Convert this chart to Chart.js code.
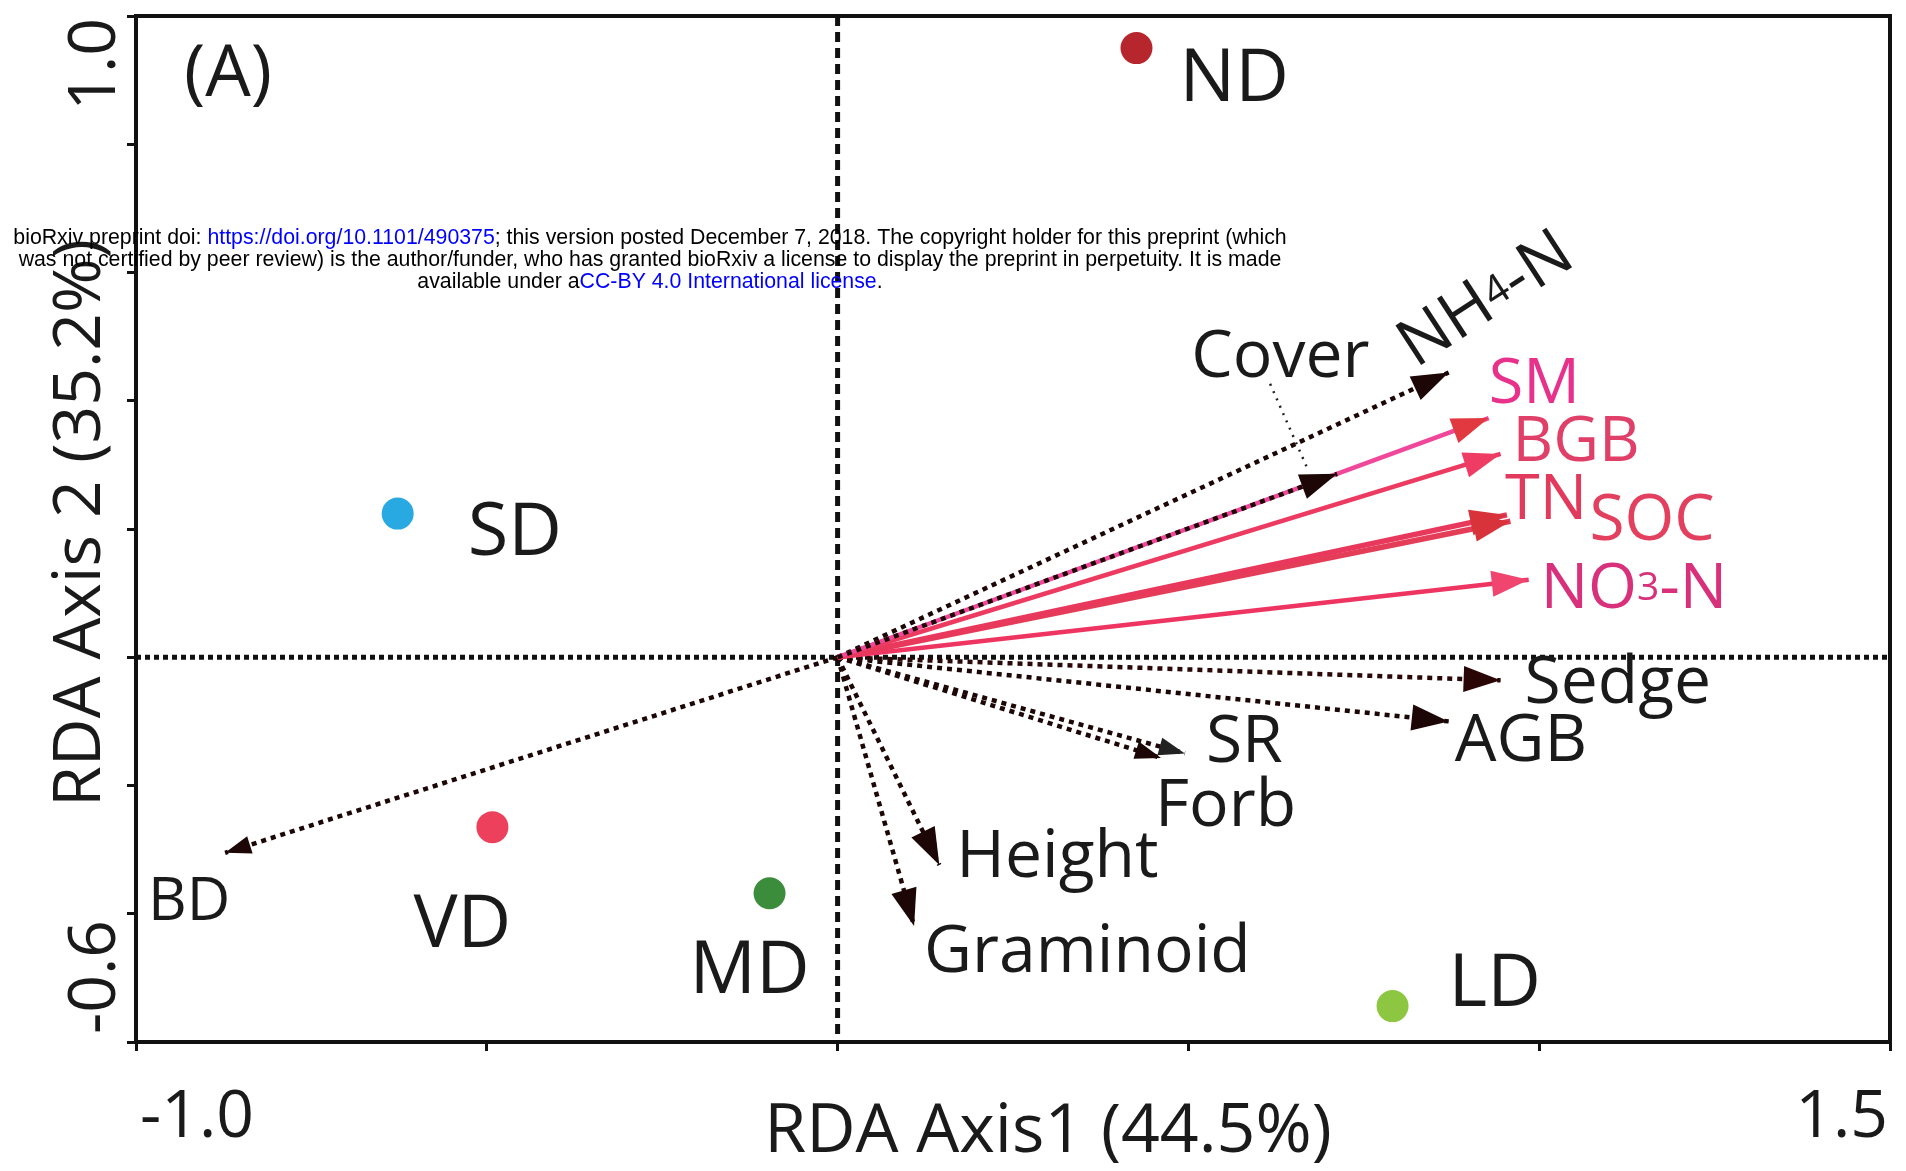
<!DOCTYPE html>
<html>
<head>
    <title>RDA biplot</title>
    <script src="https://cdn.jsdelivr.net/npm/chart.js"></script>
    <style>
        body { margin: 0; background: #fff; }
        #wrap { width: 1906px; height: 1171px; position: relative; }
    </style>
</head>
<body>
<div id="wrap"><canvas id="rdaChart"></canvas></div>
<script>
    // site scores
    const siteNames = ['ND', 'SD', 'VD', 'MD', 'LD'];
    const siteAxis1 = [0.426, -0.627, -0.492, -0.097, 0.791];
    const siteAxis2 = [0.950, 0.224, -0.265, -0.368, -0.544];

    // explanatory variables (arrow tips)
    const varNames = ['NH4-N', 'Sedge', 'AGB', 'SR', 'Forb', 'Height', 'Graminoid', 'BD',
                      'SM', 'BGB', 'TN', 'SOC', 'NO3-N', 'Cover'];
    const varAxis1 = [0.871, 0.945, 0.871, 0.495, 0.461, 0.145, 0.109, -0.873,
                      0.928, 0.945, 0.954, 0.959, 0.985, 0.712];
    const varAxis2 = [0.444, -0.036, -0.100, -0.150, -0.157, -0.324, -0.419, -0.305,
                      0.373, 0.317, 0.222, 0.212, 0.121, 0.286];

    // only the end ticks get a label
    const xEndTicks = [-1.0, 1.5];
    const yEndTicks = [1.0, -0.6];

    const xTitle = 'RDA Axis1 (44.5%)';
    const yTitle = 'RDA Axis 2 (35.2%)';
    const panelLabel = '(A)';

    // ---- styles ----
    const FONT = '"Open Sans", "Noto Sans", sans-serif';
    const siteColors = { ND: '#b8262d', SD: '#29a9e1', VD: '#ec405d', MD: '#3b8d3c', LD: '#8dc641' };
    const siteLabelOffset = { ND: [43, 53], SD: [70, 41], VD: [-79, 120], MD: [-80, 100], LD: [56, 0] };

    const dotted = { line: '#1c0606', head: '#1c0606', text: '#1a1a1a', width: 4.5, dash: [5, 5], order: 3, size: 66 };
    const varStyle = {
        'NH4-N': { ...dotted, rot: -33 },
        'Sedge': { ...dotted, line: '#2a0808', head: '#2a0505' },
        'AGB': dotted, 'SR': { ...dotted, head: '#222', small: true }, 'Forb': { ...dotted, small: true },
        'Height': dotted, 'Graminoid': dotted, 'BD': { ...dotted, size: 60, small: true },
        'Cover': { ...dotted, order: 1 },
        'SM': { line: '#f0479b', head: '#e2383f', text: '#e8318a', width: 4.5, dash: [], order: 2, size: 63 },
        'BGB': { line: '#ec3a60', head: '#ee3c64', text: '#e03f68', width: 4.5, dash: [], order: 2, size: 63 },
        'TN': { line: '#e8385c', head: '#d8333a', text: '#e23a5c', width: 5.5, dash: [], order: 2, size: 63 },
        'SOC': { line: '#e43d58', head: '#d8333a', text: '#e2405e', width: 5.5, dash: [], order: 2, size: 64 },
        'NO3-N': { line: '#ee3562', head: '#f0456e', text: '#d8307a', width: 4.5, dash: [], order: 2, size: 63 }
    };
    const varLabelOffset = {
        'NH4-N': [-33, -4], 'Cover': [-146, -97], 'SM': [0, -15], 'BGB': [12, 7], 'TN': [-2, 4],
        'SOC': [79, 19], 'NO3-N': [12, 28], 'Sedge': [24, 23], 'AGB': [6, 40], 'SR': [21, 9],
        'Forb': [-6, 68], 'Height': [17, 12], 'Graminoid': [10, 46], 'BD': [-77, 67]
    };

    // text with small digits (NH4, NO3)
    function richParts(name) {
        const m = name.match(/^(N[HO])(\d)(-N)$/);
        if (!m) return [[name, 1]];
        return [[m[1], 1], [m[2], 0.62], [m[3], 1]];
    }

    function drawRich(ctx, name, x, y, size, color, rot) {
        ctx.save();
        ctx.translate(x, y);
        if (rot) ctx.rotate(rot * Math.PI / 180);
        ctx.fillStyle = color;
        ctx.textAlign = 'left';
        ctx.textBaseline = 'alphabetic';
        let cx = 0;
        richParts(name).forEach(([t, s]) => {
            ctx.font = `${Math.round(size * s)}px ${FONT}`;
            const dy = s < 1 ? -size * 0.12 : 0;
            ctx.fillText(t, cx, dy);
            cx += ctx.measureText(t).width;
        });
        ctx.restore();
    }

    function drawHead(ctx, from, to, color, len, half) {
        const ang = Math.atan2(to.y - from.y, to.x - from.x);
        ctx.save();
        ctx.translate(to.x, to.y);
        ctx.rotate(ang);
        ctx.fillStyle = color;
        ctx.beginPath();
        ctx.moveTo(0, 0);
        ctx.lineTo(-len, -half);
        ctx.lineTo(-len, half);
        ctx.closePath();
        ctx.fill();
        ctx.restore();
    }

    const biplotDecor = {
        id: 'biplotDecor',
        beforeDatasetsDraw(chart) {
            const { ctx, chartArea: a, scales: { x, y } } = chart;
            const x0 = x.getPixelForValue(0), y0 = y.getPixelForValue(0);
            ctx.save();
            ctx.strokeStyle = '#111';
            ctx.lineWidth = 5;
            ctx.setLineDash([10, 6]);
            ctx.beginPath(); ctx.moveTo(x0, a.top); ctx.lineTo(x0, a.bottom); ctx.stroke();
            ctx.setLineDash([5, 4]);
            ctx.beginPath(); ctx.moveTo(a.left, y0); ctx.lineTo(a.right, y0); ctx.stroke();
            ctx.restore();
        },
        afterDatasetsDraw(chart) {
            const { ctx, chartArea: a, scales: { x, y } } = chart;

            // arrow heads + variable labels
            chart.data.datasets.forEach((ds, i) => {
                if (!ds.varName) return;
                const st = varStyle[ds.varName];
                const pts = chart.getDatasetMeta(i).data;
                const tip = pts[1];
                const len = st.small ? 26 : 37, half = st.small ? 9 : 13;
                drawHead(ctx, pts[0], tip, st.head, len, half);
                const off = varLabelOffset[ds.varName];
                drawRich(ctx, ds.varName, tip.x + off[0], tip.y + off[1], st.size, st.text, st.rot);
                if (ds.varName === 'Cover') {
                    // leader from label to arrow
                    ctx.save();
                    ctx.strokeStyle = '#222';
                    ctx.lineWidth = 2.5;
                    ctx.setLineDash([2, 6]);
                    ctx.beginPath();
                    ctx.moveTo(tip.x - 67, tip.y - 90);
                    ctx.lineTo(tip.x - 30, tip.y - 6);
                    ctx.stroke();
                    ctx.restore();
                }
            });

            // site labels
            const meta = chart.getDatasetMeta(0);
            ctx.save();
            ctx.fillStyle = '#1a1a1a';
            ctx.font = `74px ${FONT}`;
            ctx.textBaseline = 'alphabetic';
            siteNames.forEach((n, i) => {
                const p = meta.data[i];
                const off = siteLabelOffset[n];
                ctx.fillText(n, p.x + off[0], p.y + off[1]);
            });

            // panel letter
            ctx.font = `72px ${FONT}`;
            ctx.fillText(panelLabel, a.left + 48, a.top + 80);

            // frame
            ctx.strokeStyle = '#111';
            ctx.lineWidth = 4;
            ctx.strokeRect(a.left, a.top, a.right - a.left, a.bottom - a.top);

            // tick labels at the axis ends
            ctx.font = `66px ${FONT}`;
            ctx.fillStyle = '#1a1a1a';
            ctx.textAlign = 'left';
            ctx.fillText(xEndTicks[0].toFixed(1), x.getPixelForValue(xEndTicks[0]) + 4, 1137);
            ctx.textAlign = 'right';
            ctx.fillText(xEndTicks[1].toFixed(1), x.getPixelForValue(xEndTicks[1]) - 2, 1137);
            ctx.textAlign = 'center';
            ctx.font = `68px ${FONT}`;
            ctx.fillText(xTitle, (a.left + a.right) / 2 + 35, 1152);
            ctx.font = `66px ${FONT}`;

            ctx.save();
            ctx.translate(115, y.getPixelForValue(yEndTicks[0]) + 2);
            ctx.rotate(-Math.PI / 2);
            ctx.textAlign = 'right';
            ctx.fillText(yEndTicks[0].toFixed(1), 0, 0);
            ctx.restore();
            ctx.save();
            ctx.translate(115, y.getPixelForValue(yEndTicks[1]) - 8);
            ctx.rotate(-Math.PI / 2);
            ctx.textAlign = 'left';
            ctx.fillText(yEndTicks[1].toFixed(1), 0, 0);
            ctx.restore();
            ctx.save();
            ctx.translate(100, (a.top + a.bottom) / 2 - 6);
            ctx.rotate(-Math.PI / 2);
            ctx.textAlign = 'center';
            ctx.fillText(yTitle, 0, 0);
            ctx.restore();
            ctx.restore();
        },
        afterDraw(chart) {
            // preprint stamp over the figure
            const { ctx } = chart;
            const lines = [
                [['bioRxiv preprint doi: ', '#000'], ['https://doi.org/10.1101/490375', '#0000ff'],
                 ['; this version posted December 7, 2018. The copyright holder for this preprint (which', '#000']],
                [['was not certified by peer review) is the author/funder, who has granted bioRxiv a license to display the preprint in perpetuity. It is made', '#000']],
                [['available under a', '#000'], ['CC-BY 4.0 International license', '#0000ff'], ['.', '#000']]
            ];
            ctx.save();
            ctx.font = '21.3px "Liberation Sans", Arial, sans-serif';
            ctx.textBaseline = 'alphabetic';
            ctx.textAlign = 'left';
            lines.forEach((parts, li) => {
                const w = parts.reduce((s, p) => s + ctx.measureText(p[0]).width, 0);
                let cx = 650 - w / 2;
                parts.forEach(([t, c]) => {
                    ctx.fillStyle = c;
                    ctx.fillText(t, cx, 244 + li * 22);
                    cx += ctx.measureText(t).width;
                });
            });
            ctx.restore();
        }
    };

    const datasets = [{
        type: 'scatter',
        label: 'sites',
        data: siteNames.map((n, i) => ({ x: siteAxis1[i], y: siteAxis2[i] })),
        pointRadius: 16,
        pointHoverRadius: 16,
        pointBackgroundColor: siteNames.map(n => siteColors[n]),
        pointBorderWidth: 0,
        order: 0
    }];
    varNames.forEach((n, i) => {
        const st = varStyle[n];
        datasets.push({
            type: 'line',
            label: n,
            varName: n,
            data: [{ x: 0, y: 0 }, { x: varAxis1[i], y: varAxis2[i] }],
            borderColor: st.line,
            borderWidth: st.width,
            borderDash: st.dash,
            borderCapStyle: 'butt',
            pointRadius: 0,
            fill: false,
            tension: 0,
            order: st.order
        });
    });

    const axisGrid = { drawOnChartArea: false, drawTicks: true, tickLength: 9, color: '#111', lineWidth: 3 };

    new Chart(document.getElementById('rdaChart'), {
        type: 'scatter',
        data: { datasets: datasets },
        options: {
            responsive: true,
            maintainAspectRatio: false,
            animation: false,
            events: [],
            layout: { padding: { top: 16, right: 15, left: 0, bottom: 0 } },
            plugins: { legend: { display: false }, tooltip: { enabled: false } },
            scales: {
                x: {
                    type: 'linear', min: -1.0, max: 1.5,
                    ticks: { stepSize: 0.5, display: false },
                    grid: axisGrid,
                    border: { display: false },
                    afterFit(s) { s.height = 129; }
                },
                y: {
                    type: 'linear', min: -0.6, max: 1.0,
                    ticks: { stepSize: 0.2, display: false },
                    grid: axisGrid,
                    border: { display: false },
                    afterFit(s) { s.width = 136; }
                }
            }
        },
        plugins: [biplotDecor]
    });
</script>
</body>
</html>
